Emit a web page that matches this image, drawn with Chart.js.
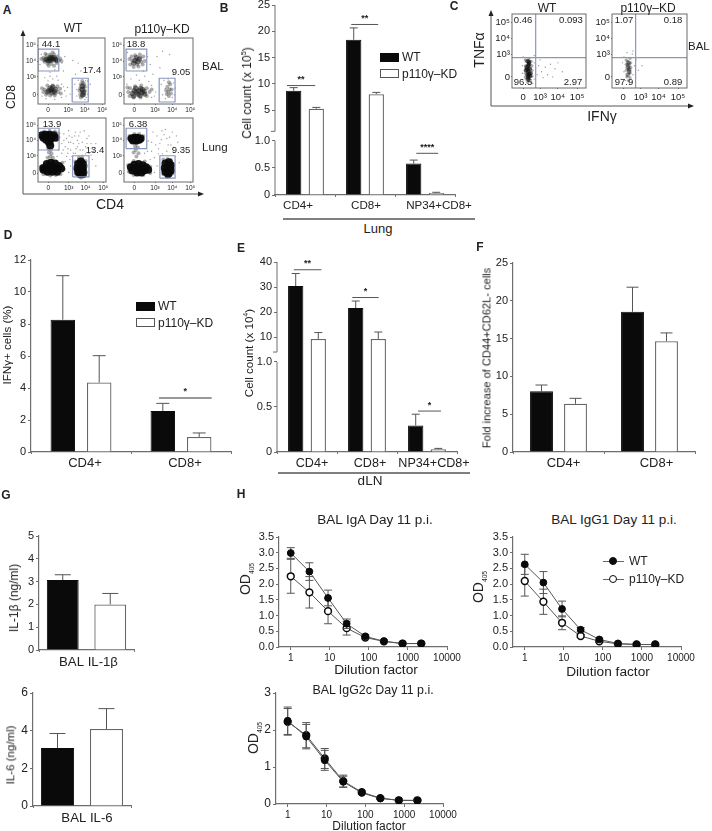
<!DOCTYPE html>
<html>
<head>
<meta charset="utf-8">
<title>p110γ-KD figure</title>
<script src="https://cdn.jsdelivr.net/npm/chart.js@4/dist/chart.umd.js"></script>
<style>
  html, body { margin: 0; padding: 0; background: #fff; }
  #page { position: relative; width: 712px; height: 831px; overflow: hidden; font-family: "Liberation Sans", Arial, sans-serif; color: #222; }
  #page canvas { position: absolute; }
  #page canvas.flow { filter: blur(0.45px); }
  #page svg { position: absolute; left: 0; top: 0; }
  .txt { position: absolute; white-space: nowrap; line-height: 1; }
  .txt sub, .txt sup { font-size: 62%; line-height: 0; }
  .txt sub.small { font-size: 48%; }
  .swatch { position: absolute; box-sizing: border-box; }
</style>
</head>
<body>
<div id="page"></div>
<script>
'use strict';

// ============================================================
// DATA
// ============================================================
const seriesNames = ['WT', 'p110γ–KD'];

// B: lung cell counts (x 10^5)
const lungCats = ['CD4+', 'CD8+', 'NP34+CD8+'];
const lungWT = [8.7, 18.4, 0.58];
const lungWTErr = [0.6, 2.25, 0.065];
const lungKD = [5.3, 8.07, 0.035];
const lungKDErr = [0.25, 0.33, 0.015];
const lungTicks = [0, 0.5, 1, 5, 10, 15, 20, 25];
const lungTickLabels = ['0', '0.5', '1.0', '5', '10', '15', '20', '25'];

// D: IFNγ+ cells
const ifnCats = ['CD4+', 'CD8+'];
const ifnWT = [8.27, 2.56];
const ifnWTErr = [2.75, 0.48];
const ifnKD = [4.34, 0.94];
const ifnKDErr = [1.68, 0.25];
const ifnTicks = [0, 2, 4, 6, 8, 10, 12];

// E: dLN cell counts (x 10^4)
const dlnCats = ['CD4+', 'CD8+', 'NP34+CD8+'];
const dlnWT = [30.4, 21.6, 0.295];
const dlnWTErr = [5, 2.8, 0.125];
const dlnKD = [9.2, 9.2, 0.03];
const dlnKDErr = [2.6, 2.8, 0.01];
const dlnTicks = [0, 0.5, 1, 10, 20, 30, 40];
const dlnTickLabels = ['0', '0.5', '1.0', '10', '20', '30', '40'];

// F: fold increase
const foldCats = ['CD4+', 'CD8+'];
const foldWT = [8.02, 18.55];
const foldWTErr = [0.84, 3.25];
const foldKD = [6.38, 14.65];
const foldKDErr = [0.72, 1.1];
const foldTicks = [0, 5, 10, 15, 20, 25];

// G: cytokines
const il1Cats = ['BAL IL-1β'];
const il1WT = [3.07];
const il1WTErr = [0.23];
const il1KD = [2.0];
const il1KDErr = [0.48];
const il1Ticks = [0, 1, 2, 3, 4, 5];
const il6Cats = ['BAL IL-6'];
const il6WT = [3.08];
const il6WTErr = [0.77];
const il6KD = [4.09];
const il6KDErr = [1.08];
const il6Ticks = [0, 2, 4, 6];

// H: ELISA titration curves
const dilutions = [1, 3, 9, 27, 81, 243, 729, 2187];
const dilutionTicks = [1, 10, 100, 1000, 10000];
const odTicks = [0, 0.5, 1, 1.5, 2, 2.5, 3, 3.5];
const odTickLabels = ['0.0', '0.5', '1.0', '1.5', '2.0', '2.5', '3.0', '3.5'];
const g2cTicks = [0, 1, 2, 3];

const igaWT = [2.99, 2.4, 1.56, 0.74, 0.34, 0.18, 0.11, 0.11];
const igaWTErr = [0.17, 0.28, 0.25, 0.15, 0.05, 0.03, 0.02, 0.02];
const igaKD = [2.25, 1.74, 1.14, 0.6, 0.3, 0.18, 0.11, 0.11];
const igaKDErr = [0.54, 0.5, 0.4, 0.22, 0.04, 0.03, 0.02, 0.02];

const ig1WT = [2.63, 2.05, 1.21, 0.55, 0.24, 0.11, 0.08, 0.08];
const ig1WTErr = [0.32, 0.35, 0.25, 0.07, 0.04, 0.03, 0.02, 0.02];
const ig1KD = [2.1, 1.44, 0.77, 0.35, 0.18, 0.1, 0.08, 0.08];
const ig1KDErr = [0.48, 0.4, 0.22, 0.05, 0.03, 0.02, 0.02, 0.02];

const g2cWT = [2.25, 1.82, 1.18, 0.6, 0.3, 0.15, 0.1, 0.09];
const g2cWTErr = [0.37, 0.33, 0.27, 0.15, 0.03, 0.02, 0.02, 0.02];
const g2cKD = [2.22, 1.86, 1.23, 0.62, 0.32, 0.16, 0.1, 0.1];
const g2cKDErr = [0.36, 0.34, 0.27, 0.16, 0.03, 0.02, 0.02, 0.02];

// A, C: flow cytometry axes, in display channels 0-100
const flowTickLabels = ['0', '10³', '10⁴', '10⁵'];
const flowXTicks = [15, 45, 70, 96];
const flowYTicks = [14, 41, 65, 89];
const bodyXTicks = [15, 38, 62, 88];
const bodyYTicks = [15, 45, 67, 89];

// A: gates [x0, x1, y0, y1]
const wtBalGates = [[0, 31, 50, 83], [51, 75, 3, 39]];
const kdBalGates = [[3, 33, 50, 83], [51, 74, 3, 39]];
const wtLungGates = [[0, 31, 50, 84], [51, 75, 8, 41]];
const kdLungGates = [[3, 33, 52, 84], [52, 74, 6, 41]];

// A: events
const wtBalDense = [[14,67],[17,69],[20,68],[23,67],[26,68],[16,65],[21,70],[18,66],[24,70],[12,68],[19,71],[28,66],[16,20],[20,22],[24,19],[21,17],[18,24],[26,22],[14,18],[22,26],[66,22],[68,18],[66,27],[67,14]];
const wtBalMid = [[8,70],[10,64],[13,74],[18,75],[24,75],[29,72],[31,66],[28,62],[20,61],[14,61],[9,66],[33,69],[10,22],[12,14],[18,13],[25,13],[30,18],[33,23],[29,27],[22,28],[14,28],[8,18],[20,20],[26,16],[5,68],[35,65],[16,58],[24,58],[11,76],[22,78],[6,24],[34,16],[63,14],[66,12],[69,14],[70,20],[70,26],[67,32],[64,30],[63,24],[65,18],[68,25],[62,20],[66,35],[69,30],[64,10]];
const wtBalFaint = [[5,75],[36,62],[40,72],[35,30],[40,20],[44,25],[55,30],[58,12],[75,25],[74,15],[60,36],[71,35],[70,7],[15,35],[22,38],[28,42],[18,48],[25,52],[38,50],[52,66],[60,62],[3,60],[6,12],[12,8],[25,7],[35,10],[48,15],[78,30],[56,45],[64,50],[10,40],[30,36],[18,42],[38,26],[42,12],[58,22],[74,35],[72,10]];

const kdBalDense = [[16,66],[20,64],[14,62],[22,68],[18,70],[18,18],[22,20],[26,17],[20,15],[15,20],[24,23],[29,19],[12,16],[30,15],[17,24],[27,22],[14,12],[23,13]];
const kdBalMid = [[8,68],[11,72],[16,74],[23,75],[28,72],[30,65],[27,60],[21,57],[14,56],[9,60],[12,66],[25,64],[19,60],[24,70],[6,18],[9,24],[16,27],[25,28],[33,24],[37,18],[33,12],[24,10],[14,10],[8,12],[40,22],[5,25],[62,15],[65,12],[68,16],[66,22],[63,26],[67,30],[69,22],[64,18],[65,33],[61,21]];
const kdBalFaint = [[5,78],[34,72],[38,60],[48,72],[56,80],[66,75],[42,45],[30,42],[18,44],[22,36],[40,28],[46,18],[54,30],[72,32],[73,14],[60,8],[58,36],[64,38],[40,10],[4,30],[70,10],[60,24],[72,45],[52,55],[10,38],[28,50],[36,34],[44,12],[56,14],[74,24]];

const wtLungDense = [[6,73],[11,74],[17,74],[23,73],[8,69],[14,70],[20,70],[26,69],[12,66],[18,66],[16,62],[18,57],[8,22],[13,28],[19,30],[25,29],[31,25],[34,21],[8,19],[14,19],[20,20],[26,20],[14,16],[21,16],[28,16],[16,24],[22,24],[59,28],[63,32],[66,28],[58,22],[62,22],[66,22],[59,16],[63,15],[66,17],[62,12],[66,12]];
const wtLungMid = [[15,52],[19,50],[16,46],[20,44],[18,40],[14,38],[22,38],[17,80],[9,79],[25,79],[3,72],[30,70],[30,76],[4,24],[36,30],[38,20],[33,12],[8,12],[18,10],[26,11],[55,32],[55,20],[56,12],[71,25],[71,15],[60,38],[65,38],[70,33],[63,7]];
const wtLungFaint = [[35,45],[40,55],[45,62],[50,70],[55,78],[60,72],[65,62],[70,55],[48,50],[55,45],[42,40],[62,50],[75,45],[78,60],[38,75],[45,80],[52,60],[68,80],[35,60],[80,35],[82,48],[47,35],[58,55],[72,68],[42,68],[30,50],[28,40],[48,25],[45,15],[85,25],[50,40],[65,42],[40,32],[58,65],[75,72],[85,60],[38,65],[44,52],[52,45],[60,60],[66,50],[72,60],[48,62],[54,72],[62,78],[37,50],[44,45],[78,42],[80,52],[70,44],[56,52],[46,72]];

const kdLungDense = [[11,68],[15,69],[19,69],[24,68],[13,65],[18,65],[22,66],[10,23],[15,27],[21,28],[27,26],[32,23],[12,18],[17,18],[23,20],[29,18],[19,15],[25,15],[35,19],[60,29],[65,31],[59,22],[64,24],[68,26],[60,16],[65,15],[68,18],[64,12]];
const kdLungMid = [[8,72],[15,75],[22,75],[6,68],[28,72],[27,66],[18,60],[16,56],[20,54],[17,50],[14,46],[21,45],[18,40],[6,26],[7,16],[14,11],[28,11],[38,24],[38,14],[30,32],[14,33],[57,35],[57,12],[71,22],[70,13],[63,36],[68,34],[62,8]];
const kdLungFaint = [[34,48],[40,62],[48,72],[55,80],[62,68],[68,58],[50,52],[56,44],[44,38],[73,46],[78,62],[42,78],[52,60],[70,78],[35,64],[30,45],[48,25],[44,15],[80,30],[62,48],[76,72],[60,82],[38,35],[84,50],[46,58],[54,66],[64,58],[72,54],[40,48],[58,74],[66,70],[50,44]];

// C: quadrant dividers [x, y] and events
const wtBodyQuad = [32, 41];
const kdBodyQuad = [31.5, 41];
const wtBodyDense = [[21,36],[23,32],[20,28],[24,26],[22,22],[21,18],[24,16],[22,12],[25,20],[19,24],[22,30],[23,19],[21,25],[23,35],[22,15]];
const wtBodyMid = [[18,38],[26,36],[27,30],[18,30],[27,24],[18,20],[27,16],[19,12],[25,9],[21,8],[23,40],[18,15]];
const wtBodyFaint = [[15,42],[30,34],[32,26],[34,18],[30,12],[36,30],[40,22],[45,28],[52,32],[42,14],[48,18],[58,26],[62,34],[14,20],[14,30],[30,44],[38,38],[28,6],[55,15],[68,22]];
const kdBodyDense = [[22,34],[21,28],[23,22],[21,18],[22,31],[23,25]];
const kdBodyMid = [[19,38],[24,40],[25,34],[19,32],[25,28],[19,24],[24,20],[20,15],[24,14],[22,10],[22,26],[21,36]];
const kdBodyFaint = [[16,42],[27,46],[30,30],[16,22],[28,18],[32,38],[18,10],[26,8],[35,24],[14,34],[40,30],[28,50],[20,48]];

// ============================================================
// STYLE
// ============================================================
const AXIS = '#6e6e6e';
const INK = '#222';
const GATE = '#8a97bd';
const FONT = '"Liberation Sans", Arial, sans-serif';
const page = document.getElementById('page');

Chart.defaults.font.family = FONT;
Chart.defaults.color = INK;
Chart.defaults.animation = false;
Chart.defaults.responsive = false;
Chart.defaults.plugins.legend.display = false;
Chart.defaults.plugins.tooltip.enabled = false;

// ============================================================
// CUSTOM SCALE + PLUGINS
// ============================================================
// y axis with a gap in it, used by panels B and E
class BrokenScale extends Chart.LinearScale {
  getPixelForValue(value) {
    const { low, high, lowShare, highShare } = this.options.gap;
    const dec = value <= low
      ? value / low * lowShare
      : highShare + (value - high) / (this.max - high) * (1 - highShare);
    return this.getPixelForDecimal(dec);
  }
}
BrokenScale.id = 'broken';
BrokenScale.defaults = Chart.LinearScale.defaults;
Chart.register(BrokenScale);

Chart.register({
  id: 'brokenLine',
  afterDraw(chart) {
    const y = chart.scales.y;
    if (y.type !== 'broken') return;
    const { low, high } = y.options.gap;
    const ctx = chart.ctx;
    ctx.save();
    ctx.strokeStyle = AXIS;
    ctx.lineWidth = 1;
    const x = chart.chartArea.left;
    ctx.beginPath();
    ctx.moveTo(x, y.getPixelForValue(0));
    ctx.lineTo(x, y.getPixelForValue(low));
    ctx.moveTo(x, y.getPixelForValue(high + 1e-6));
    ctx.lineTo(x, y.getPixelForValue(y.max));
    ctx.moveTo(x - 4, y.getPixelForValue(high + 1e-6));
    ctx.lineTo(x, y.getPixelForValue(high + 1e-6));
    ctx.stroke();
    ctx.restore();
  }
});

Chart.register({
  id: 'errorBars',
  beforeDatasetDraw(chart, args, opts) {
    const ds = chart.data.datasets[args.index];
    if (!ds.errors) return;
    const ctx = chart.ctx;
    const y = chart.scales.y;
    const cap = opts.cap || 4;
    ctx.save();
    ctx.strokeStyle = '#555';
    ctx.lineWidth = 1;
    args.meta.data.forEach((el, i) => {
      const v = chart.getDatasetMeta(args.index)._parsed[i].y;
      const top = y.getPixelForValue(v + ds.errors[i]);
      const bottom = y.getPixelForValue(opts.both ? Math.max(v - ds.errors[i], 0) : v);
      ctx.beginPath();
      ctx.moveTo(el.x, bottom);
      ctx.lineTo(el.x, top);
      ctx.moveTo(el.x - cap, top);
      ctx.lineTo(el.x + cap, top);
      if (opts.both) { ctx.moveTo(el.x - cap, bottom); ctx.lineTo(el.x + cap, bottom); }
      ctx.stroke();
    });
    ctx.restore();
  }
});

// significance lines: from/to are in category units, y is a value on the y axis
Chart.register({
  id: 'sigBars',
  afterDatasetsDraw(chart, args, opts) {
    if (!opts.items) return;
    const ctx = chart.ctx;
    ctx.save();
    opts.items.forEach(s => {
      const y = chart.scales.y.getPixelForValue(s.y);
      const x0 = chart.scales.x.getPixelForValue(s.from);
      const x1 = chart.scales.x.getPixelForValue(s.to);
      ctx.strokeStyle = opts.color || '#555';
      ctx.lineWidth = opts.width || 1;
      ctx.beginPath();
      ctx.moveTo(x0, y);
      ctx.lineTo(x1, y);
      ctx.stroke();
      ctx.fillStyle = INK;
      ctx.font = 'bold 9px ' + FONT;
      ctx.textAlign = 'center';
      ctx.textBaseline = 'middle';
      ctx.fillText(s.text, (x0 + x1) / 2 + (s.nudge || 0), y - 6);
    });
    ctx.restore();
  }
});

// category labels in the figure sit a bit off their groups
Chart.register({
  id: 'labelNudge',
  beforeDraw(chart, args, opts) {
    if (!opts.dx || chart.$nudged) return;
    chart.scales.x.getLabelItems().forEach((it, i) => { it.options.translation[0] += opts.dx[i] || 0; });
    chart.$nudged = true;
  }
});

Chart.register({
  id: 'frame',
  afterDraw(chart, args, opts) {
    if (!opts.on) return;
    const a = chart.chartArea;
    chart.ctx.save();
    chart.ctx.strokeStyle = '#6a6a6a';
    chart.ctx.lineWidth = 1;
    chart.ctx.strokeRect(a.left, a.top, a.right - a.left, a.bottom - a.top);
    chart.ctx.restore();
  }
});

// ============================================================
// HELPERS
// ============================================================
function txt(html, x, y, o = {}) {
  const d = document.createElement('div');
  d.className = 'txt';
  d.innerHTML = html;
  d.style.left = x + 'px';
  d.style.top = y + 'px';
  d.style.fontSize = (o.size || 12) + 'px';
  if (o.bold) d.style.fontWeight = 'bold';
  const ax = o.left ? '0' : '-50%';
  d.style.transform = `translate(${ax},-50%)` + (o.rot ? ' rotate(-90deg)' : '');
  page.appendChild(d);
}

function swatch(x, y, w, h, bg, border) {
  const d = document.createElement('div');
  d.className = 'swatch';
  Object.assign(d.style, { left: x + 'px', top: y + 'px', width: w + 'px', height: h + 'px', background: bg });
  if (border) d.style.border = border;
  page.appendChild(d);
}

function barLegend(x, y1, y2) {
  swatch(x, y1 - 4.5, 19, 9, '#0a0a0a');
  swatch(x, y2 - 4.5, 19, 9, '#fff', '1px solid #555');
  txt(seriesNames[0], x + 22, y1, { left: true });
  txt(seriesNames[1], x + 22, y2, { left: true });
}

function makeCanvas(box, m) {
  const c = document.createElement('canvas');
  c.width = box.r - box.l + m.l + m.r;
  c.height = box.b - box.t + m.t + m.b;
  c.style.left = (box.l - m.l) + 'px';
  c.style.top = (box.t - m.t) + 'px';
  page.appendChild(c);
  return c;
}

// pins the axis band so the plot area lands exactly on box
function pin(size) {
  return s => {
    if (s.isHorizontal()) s.height = size; else s.width = size;
    s.paddingLeft = s.paddingRight = s.paddingTop = s.paddingBottom = 0;
  };
}

function fixedTicks(values) {
  return s => { s.ticks = values.map(value => ({ value })); };
}

function axisStyle(size, tickLen, pad) {
  return {
    grid: { drawOnChartArea: false, color: AXIS, tickColor: AXIS, tickLength: tickLen, drawTicks: true },
    border: { color: AXIS, width: 1.2 },
    ticks: { font: { size }, color: INK, padding: pad, autoSkip: false, maxRotation: 0, minRotation: 0, align: 'center' }
  };
}

function yAxis(m, cfg) {
  const base = axisStyle(cfg.font || 11, 3, 2);
  const labels = cfg.labels || cfg.ticks.map(String);
  base.type = cfg.gap ? 'broken' : 'linear';
  base.min = cfg.ticks[0];
  base.max = cfg.ticks[cfg.ticks.length - 1];
  if (cfg.gap) { base.gap = cfg.gap; base.border.display = false; }
  base.afterBuildTicks = fixedTicks(cfg.ticks);
  base.ticks.callback = (v, i) => labels[i];
  base.afterFit = pin(m.l);
  return base;
}

function barChart(cfg) {
  const m = { l: 40, r: 30, t: 6, b: 18 };
  const xA = axisStyle(cfg.xFont || 12, 2, 2);
  xA.afterFit = pin(m.b);
  const common = { categoryPercentage: cfg.cat, barPercentage: cfg.bar, borderSkipped: 'bottom' };
  new Chart(makeCanvas(cfg.box, m), {
    type: 'bar',
    data: {
      labels: cfg.cats,
      datasets: [
        Object.assign({ label: seriesNames[0], data: cfg.wt, errors: cfg.wtErr, backgroundColor: '#0a0a0a', borderColor: '#0a0a0a', borderWidth: 1 }, common),
        Object.assign({ label: seriesNames[1], data: cfg.kd, errors: cfg.kdErr, backgroundColor: '#fff', borderColor: '#666', borderWidth: 1.3 }, common)
      ]
    },
    options: {
      layout: { padding: { top: m.t, right: m.r } },
      scales: { x: xA, y: yAxis(m, cfg) },
      plugins: {
        errorBars: { cap: cfg.capSize },
        sigBars: { items: cfg.sig, width: cfg.sigWidth, color: cfg.sigColor },
        labelNudge: { dx: cfg.dx }
      }
    }
  });
}

function odChart(box, yCfg, wt, wtErr, kd, kdErr, kdFill) {
  const m = { l: 40, r: 26, t: 6, b: 18 };
  const xA = axisStyle(10, 3, 2);
  xA.type = 'logarithmic';
  xA.min = 0.5;
  xA.max = dilutionTicks[dilutionTicks.length - 1];
  xA.afterBuildTicks = fixedTicks(dilutionTicks);
  xA.ticks.callback = (v, i) => String(dilutionTicks[i]);
  xA.afterFit = pin(m.b);
  const points = arr => arr.map((y, i) => ({ x: dilutions[i], y }));
  const line = { borderColor: '#555', borderWidth: 1, pointRadius: 3.4, tension: 0 };
  new Chart(makeCanvas(box, m), {
    type: 'line',
    data: {
      datasets: [
        Object.assign({ label: seriesNames[0], data: points(wt), errors: wtErr, pointBackgroundColor: '#0a0a0a', pointBorderColor: '#0a0a0a', pointBorderWidth: 1 }, line),
        Object.assign({ label: seriesNames[1], data: points(kd), errors: kdErr, pointBackgroundColor: kdFill, pointBorderColor: '#0a0a0a', pointBorderWidth: 1.5 }, line)
      ]
    },
    options: {
      layout: { padding: { top: m.t, right: m.r } },
      scales: { x: xA, y: yAxis(m, yCfg) },
      plugins: { errorBars: { cap: 4, both: true } }
    }
  });
}

function closedRect(g) {
  return [[g[0], g[2]], [g[1], g[2]], [g[1], g[3]], [g[0], g[3]], [g[0], g[2]]].map(([x, y]) => ({ x, y }));
}

function flowChart(box, shapes, dense, mid, faint, o) {
  const m = { l: 24, r: 4, t: 4, b: 16 };
  const size = o.font;
  const xA = axisStyle(size, 1, o.pad);
  const yA = axisStyle(size, 1, 1);
  [xA, yA].forEach(a => { a.min = 0; a.max = 100; a.type = 'linear'; a.border.display = false; a.afterFit = pin(a === xA ? m.b : m.l); });
  xA.afterBuildTicks = fixedTicks(o.xTicks);
  yA.afterBuildTicks = fixedTicks(o.yTicks);
  xA.ticks.callback = yA.ticks.callback = (v, i) => flowTickLabels[i];
  const asPts = arr => arr.map(([x, y]) => ({ x, y }));
  const shapeSets = shapes.map(s => ({ data: s, showLine: true, pointRadius: 0, borderColor: GATE, borderWidth: 1.2, tension: 0 }));
  const canvas = makeCanvas(box, m);
  canvas.className = 'flow';
  new Chart(canvas, {
    type: 'scatter',
    data: {
      datasets: shapeSets.concat([
        { data: asPts(dense), pointRadius: o.denseR, pointBackgroundColor: o.denseC, pointBorderWidth: 0 },
        { data: asPts(mid), pointRadius: o.midR, pointBackgroundColor: 'rgba(50,50,50,.4)', pointBorderWidth: 0 },
        { data: asPts(faint), pointRadius: 0.7, pointBackgroundColor: 'rgba(90,90,90,.6)', pointBorderWidth: 0 }
      ])
    },
    options: {
      layout: { padding: { top: m.t, right: m.r } },
      scales: { x: xA, y: yA },
      plugins: { frame: { on: true } }
    }
  });
}

// ============================================================
// PANEL A
// ============================================================
const balLook = { font: 6.5, pad: 1, xTicks: flowXTicks, yTicks: flowYTicks, denseR: 2.7, denseC: 'rgba(25,25,25,.55)', midR: 2 };
const lungLook = { font: 6.5, pad: 1, xTicks: flowXTicks, yTicks: flowYTicks, denseR: 4, denseC: 'rgba(10,10,10,.95)', midR: 2 };
flowChart({ l: 38, r: 105, t: 38, b: 104 }, wtBalGates.map(closedRect), wtBalDense, wtBalMid, wtBalFaint, balLook);
flowChart({ l: 124, r: 193, t: 38, b: 104 }, kdBalGates.map(closedRect), kdBalDense, kdBalMid, kdBalFaint, balLook);
flowChart({ l: 38, r: 106, t: 118, b: 182 }, wtLungGates.map(closedRect), wtLungDense, wtLungMid, wtLungFaint, lungLook);
flowChart({ l: 124, r: 193, t: 118, b: 182 }, kdLungGates.map(closedRect), kdLungDense, kdLungMid, kdLungFaint, lungLook);

[['44.1', 51, 44], ['17.4', 92, 70], ['18.8', 136, 44], ['9.05', 181, 72],
 ['13.9', 52, 124], ['13.4', 95, 150], ['6.38', 138, 124], ['9.35', 181, 150]]
  .forEach(([t, x, y]) => txt(t, x, y, { size: 9.5 }));

txt('A', 7, 10, { bold: true, size: 12 });
txt('WT', 73, 28, { size: 12 });
txt('p110γ–KD', 162, 29, { size: 12 });
txt('BAL', 202, 67, { left: true, size: 11.5 });
txt('Lung', 202, 148, { left: true, size: 11.5 });
txt('CD8', 11, 97, { rot: true, size: 12 });
txt('CD4', 110, 204, { size: 14 });

// ============================================================
// PANEL B
// ============================================================
barChart({
  box: { l: 275, r: 455, t: 5, b: 195 },
  cats: lungCats, wt: lungWT, wtErr: lungWTErr, kd: lungKD, kdErr: lungKDErr,
  ticks: lungTicks, labels: lungTickLabels,
  gap: { low: 1, high: 1, lowShare: 0.285, highShare: 0.335 },
  cat: 0.753, bar: 0.677, capSize: 4, xFont: 11.6,
  sig: [
    { from: -0.3, to: 0.17, y: 9.7, text: '**' },
    { from: 0.77, to: 1.22, y: 21.3, text: '**' },
    { from: 1.855, to: 2.22, y: 0.77, text: '****' }
  ],
  dx: [-7, 1, 14]
});
barLegend(380, 57, 73.5);
txt('B', 224, 8, { bold: true, size: 12 });
txt('Cell count (x 10<sup>5</sup>)', 247, 93, { rot: true, size: 12 });
txt('Lung', 378, 228, { size: 13 });

// ============================================================
// PANEL C
// ============================================================
const bodyLook = { font: 9.5, pad: 3, xTicks: bodyXTicks, yTicks: bodyYTicks, denseR: 2.3, denseC: 'rgba(15,15,15,.7)', midR: 1.6 };
const quadShapes = q => [[{ x: q[0], y: 0 }, { x: q[0], y: 100 }], [{ x: 0, y: q[1] }, { x: 100, y: q[1] }]];
flowChart({ l: 512, r: 586, t: 14, b: 88 }, quadShapes(wtBodyQuad), wtBodyDense, wtBodyMid, wtBodyFaint, bodyLook);
flowChart({ l: 612, r: 687, t: 14, b: 88 }, quadShapes(kdBodyQuad), kdBodyDense, kdBodyMid, kdBodyFaint,
  Object.assign({}, bodyLook, { denseC: 'rgba(30,30,30,.5)' }));

[['0.46', 523, 20], ['0.093', 571, 20], ['96.5', 523, 82], ['2.97', 573, 82],
 ['1.07', 624, 20], ['0.18', 673, 20], ['97.9', 624, 82], ['0.89', 673, 82]]
  .forEach(([t, x, y]) => txt(t, x, y, { size: 9.5 }));

txt('C', 454, 6, { bold: true, size: 12 });
txt('WT', 547, 8, { size: 12 });
txt('p110γ–KD', 648, 8, { size: 12 });
txt('BAL', 688, 47, { left: true, size: 11.5 });
txt('TNFα', 479, 50, { rot: true, size: 14 });
txt('IFNγ', 602, 116, { size: 14 });

// ============================================================
// PANEL D
// ============================================================
barChart({
  box: { l: 31, r: 231, t: 260, b: 452 },
  cats: ifnCats, wt: ifnWT, wtErr: ifnWTErr, kd: ifnKD, kdErr: ifnKDErr,
  ticks: ifnTicks,
  cat: 0.728, bar: 0.673, capSize: 6.5, xFont: 13,
  sig: [{ from: 0.78, to: 1.307, y: 3.38, text: '*', nudge: 0 }],
  sigWidth: 2, sigColor: '#999',
  dx: [4, 4]
});
barLegend(136, 306, 322.5);
txt('D', 8, 235, { bold: true, size: 12 });
txt('IFNγ+ cells (%)', 7, 345, { rot: true, size: 11.6 });

// ============================================================
// PANEL E
// ============================================================
barChart({
  box: { l: 277, r: 457, t: 262, b: 452 },
  cats: dlnCats, wt: dlnWT, wtErr: dlnWTErr, kd: dlnKD, kdErr: dlnKDErr,
  ticks: dlnTicks, labels: dlnTickLabels,
  gap: { low: 1, high: 4, lowShare: 0.4737, highShare: 0.526 },
  cat: 0.753, bar: 0.677, capSize: 4, xFont: 12.6,
  sig: [
    { from: -0.22, to: 0.24, y: 36.9, text: '**' },
    { from: 0.755, to: 1.195, y: 25.8, text: '*' },
    { from: 1.85, to: 2.233, y: 0.455, text: '*' }
  ],
  dx: [5, 3, 7]
});
txt('E', 241, 248, { bold: true, size: 12 });
txt('Cell count (x 10<sup>4</sup>)', 249, 353, { rot: true, size: 11.6 });
txt('dLN', 370, 481, { size: 13.5 });

// ============================================================
// PANEL F
// ============================================================
barChart({
  box: { l: 513, r: 695, t: 263, b: 452 },
  cats: foldCats, wt: foldWT, wtErr: foldWTErr, kd: foldKD, kdErr: foldKDErr,
  ticks: foldTicks,
  cat: 0.747, bar: 0.674, capSize: 6, xFont: 13,
  dx: [5, 7]
});
txt('F', 480, 247, { bold: true, size: 12 });
txt('Fold increase of CD44+CD62L- cells', 487, 358, { rot: true, size: 11.1 });

// ============================================================
// PANEL G
// ============================================================
barChart({
  box: { l: 39, r: 134, t: 536, b: 650 },
  cats: il1Cats, wt: il1WT, wtErr: il1WTErr, kd: il1KD, kdErr: il1KDErr,
  ticks: il1Ticks,
  cat: 1, bar: 0.67, capSize: 8, xFont: 13.2,
  dx: [2]
});
txt('G', 6, 495, { bold: true, size: 12 });
txt('IL-1β (ng/ml)', 14, 598, { rot: true, size: 12 });

barChart({
  box: { l: 33, r: 131, t: 693, b: 806 },
  cats: il6Cats, wt: il6WT, wtErr: il6WTErr, kd: il6KD, kdErr: il6KDErr,
  ticks: il6Ticks, font: 12,
  cat: 1, bar: 0.678, capSize: 8, xFont: 13.2,
  dx: [5]
});
txt('IL-6 (ng/ml)', 11, 755, { rot: true, size: 11.5 });

// ============================================================
// PANEL H
// ============================================================
odChart({ l: 279, r: 447, t: 537, b: 647 }, { ticks: odTicks, labels: odTickLabels }, igaWT, igaWTErr, igaKD, igaKDErr, '#fff');
odChart({ l: 513, r: 681, t: 537, b: 647 }, { ticks: odTicks, labels: odTickLabels }, ig1WT, ig1WTErr, ig1KD, ig1KDErr, '#fff');
odChart({ l: 276, r: 443, t: 693, b: 804 }, { ticks: g2cTicks, font: 12 }, g2cWT, g2cWTErr, g2cKD, g2cKDErr, '#0a0a0a');

const odTitle = 'OD<sub class="small">405</sub>';
txt('H', 241, 494, { bold: true, size: 12 });
txt('BAL IgA Day 11 p.i.', 375, 520, { size: 13.5 });
txt('BAL IgG1 Day 11 p.i.', 614, 520, { size: 13.5 });
txt('BAL IgG2c Day 11 p.i.', 373, 690, { size: 12.4 });
txt('Dilution factor', 376, 670, { size: 13.7 });
txt('Dilution factor', 608, 672, { size: 13.7 });
txt('Dilution factor', 369, 826, { size: 12 });
txt(odTitle, 245, 579, { rot: true, size: 14 });
txt(odTitle, 478, 587, { rot: true, size: 14 });
txt(odTitle, 253, 738, { rot: true, size: 14 });

// line legend
[[seriesNames[0], 561, '#0a0a0a'], [seriesNames[1], 579, '#fff']].forEach(([name, y, fill]) => {
  swatch(603, y - 0.5, 21, 1, '#666');
  swatch(609, y - 4, 8, 8, fill, '1.5px solid #0a0a0a');
  page.lastChild.style.borderRadius = '50%';
  txt(name, 629, y, { left: true });
});

// ============================================================
// ARROWS AND UNDERLINES
// ============================================================
page.insertAdjacentHTML('beforeend', `
<svg width="712" height="831">
  <g stroke="#555" stroke-width="1" fill="#222">
    <line x1="23" y1="194" x2="23" y2="33"/><path d="M23 30l-2.5 6h5z" stroke="none"/>
    <line x1="23" y1="194" x2="201" y2="194"/><path d="M204 194l-6-2.5v5z" stroke="none"/>
    <line x1="491" y1="106" x2="491" y2="13"/><path d="M491 10l-2.5 6h5z" stroke="none"/>
    <line x1="491" y1="106" x2="691" y2="106"/><path d="M694 106l-6-2.5v5z" stroke="none"/>
  </g>
  <line x1="283" y1="219" x2="475" y2="219" stroke="#555" stroke-width="1.6"/>
  <line x1="278" y1="473" x2="470" y2="473" stroke="#555" stroke-width="1.6"/>
</svg>`);
</script>
</body>
</html>
